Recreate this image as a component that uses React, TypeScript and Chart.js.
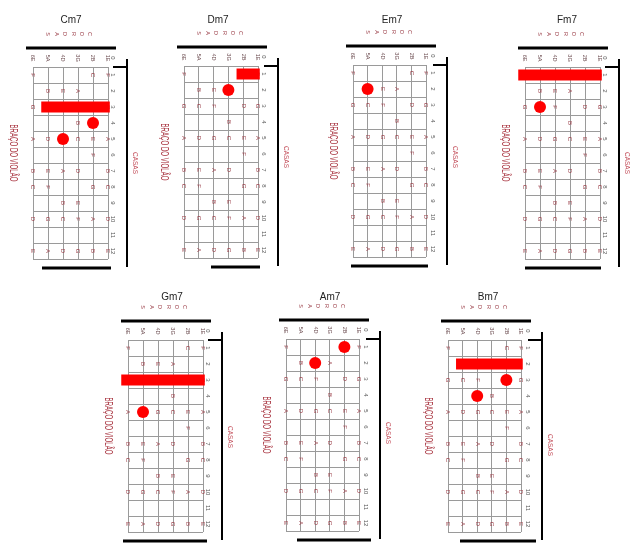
import React, { useEffect, useRef } from 'react';
import { Chart, registerables } from 'chart.js';

Chart.register(...registerables);

// ---------- data ----------
const chordNames = ['Cm7', 'Dm7', 'Em7', 'Fm7', 'Gm7', 'Am7', 'Bm7'];
const stringLabels = ['6E', '5A', '4D', '3G', '2B', '1E'];
const openLabel = '0';
const fretLabels = ['1', '2', '3', '4', '5', '6', '7', '8', '9', '10', '11', '12'];
const cordasLetters = ['C', 'O', 'R', 'D', 'A', 'S'];
const sideTitle = 'CASAS';
const neckTitle = 'BRAÇO DO VIOLÃO';

// natural notes on each string, frets 1..12
const notes6E = ['F', '', 'G', '', 'A', '', 'B', 'C', '', 'D', '', 'E'];
const notes5A = ['', 'B', 'C', '', 'D', '', 'E', 'F', '', 'G', '', 'A'];
const notes4D = ['', 'E', 'F', '', 'G', '', 'A', '', 'B', 'C', '', 'D'];
const notes3G = ['', 'A', '', 'B', 'C', '', 'D', '', 'E', 'F', '', 'G'];
const notes2B = ['C', '', 'D', '', 'E', 'F', '', 'G', '', 'A', '', 'B'];
const notes1E = ['F', '', 'G', '', 'A', '', 'B', 'C', '', 'D', '', 'E'];
const noteColumns = [notes6E, notes5A, notes4D, notes3G, notes2B, notes1E];

// finger dots: string index (0 = 6E ... 5 = 1E) and fret
const dotStrings = [[4, 2], [3], [1], [1], [1], [4, 2], [4, 2]];
const dotFrets = [[4, 5], [2], [2], [3], [5], [1, 2], [3, 4]];
// barre: fret, first string, last string
const barreFret = [3, 1, null, 1, 3, null, 2];
const barreFrom = [1, 4, null, 0, 0, null, 1];
const barreTo = [5, 5, null, 5, 5, null, 5];

// ---------- layout (page positions) ----------
const layouts = [
  { gx: 33, gy: 67, w: 75, titleX: 71, titleY: 20, botFrom: 9, botTo: 78, casasY: 96 },
  { gx: 184, gy: 66, w: 74, titleX: 218, titleY: 20, botFrom: 27, botTo: 76, casasY: 91 },
  { gx: 353, gy: 65, w: 73, titleX: 392, titleY: 20, botFrom: -2, botTo: 75, casasY: 92 },
  { gx: 525, gy: 67, w: 75, titleX: 567, titleY: 20, botFrom: 0, botTo: 76, casasY: 96 },
  { gx: 128, gy: 340, w: 75, titleX: 172, titleY: 297, botFrom: -5, botTo: 79, casasY: 97 },
  { gx: 286, gy: 339, w: 73, titleX: 330, titleY: 297, botFrom: 11, botTo: 85, casasY: 94 },
  { gx: 448, gy: 340, w: 73, titleX: 488, titleY: 297, botFrom: 12, botTo: 88, casasY: 105 },
];
const GRID_H = 192;
const PAD = { left: 30, top: 56, right: 36, bottom: 14 };

const FONT = '"Liberation Sans", Arial, sans-serif';
const NOTE_COLOR = '#9a3c46';
const LABEL_COLOR = '#6a4a4e';
const FRET_COLOR = '#555555';
const CASAS_COLOR = '#c4505c';
const NECK_COLOR = '#a8323e';
const RED = '#ff0000';

function rotText(
  ctx: CanvasRenderingContext2D,
  text: string,
  x: number,
  y: number,
  font: string,
  color: string,
  targetLen?: number
) {
  ctx.save();
  ctx.translate(x, y);
  ctx.rotate(Math.PI / 2);
  ctx.font = font;
  if (targetLen) {
    const m = ctx.measureText(text).width;
    ctx.scale(targetLen / m, 1);
  }
  ctx.fillStyle = color;
  ctx.textAlign = 'center';
  ctx.textBaseline = 'middle';
  ctx.fillText(text, 0, 0);
  ctx.restore();
}

function line(ctx: CanvasRenderingContext2D, x1: number, y1: number, x2: number, y2: number, w: number) {
  ctx.save();
  ctx.strokeStyle = '#000';
  ctx.lineWidth = w;
  ctx.beginPath();
  ctx.moveTo(x1, y1);
  ctx.lineTo(x2, y2);
  ctx.stroke();
  ctx.restore();
}

function makeConfig(i: number): any {
  const L = layouts[i];
  const canvasLeft = L.gx - PAD.left;
  const canvasTop = L.gy - PAD.top;

  const dots = dotStrings[i].map((s, k) => ({ x: s, y: dotFrets[i][k] - 0.5 }));
  const bf = barreFret[i];
  const barre =
    bf == null
      ? []
      : [
          { x: (barreFrom[i] as number) - 0.45, y: bf - 0.5 },
          { x: (barreTo[i] as number) + 0.12, y: bf - 0.5 },
        ];

  const plugin = {
    id: 'diagram' + i,
    beforeDatasetsDraw(chart: any) {
      const { ctx } = chart;
      const xs = chart.scales.x;
      const ys = chart.scales.y;
      noteColumns.forEach((col, s) => {
        col.forEach((n, f) => {
          if (n) rotText(ctx, n, xs.getPixelForValue(s), ys.getPixelForValue(f + 0.5), '6px ' + FONT, NOTE_COLOR);
        });
      });
    },
    afterDraw(chart: any) {
      const { ctx } = chart;
      const xs = chart.scales.x;
      const ys = chart.scales.y;
      const ox = xs.getPixelForValue(0);
      const oy = ys.getPixelForValue(0);

      // title
      ctx.save();
      ctx.font = '10px ' + FONT;
      ctx.fillStyle = '#222';
      ctx.textAlign = 'center';
      ctx.textBaseline = 'middle';
      ctx.fillText(chordNames[i], L.titleX - canvasLeft, L.titleY - canvasTop);
      ctx.restore();

      // CORDAS
      cordasLetters.forEach((c, k) => rotText(ctx, c, ox + 57 - k * 8.4, oy - 33, '5.5px ' + FONT, NOTE_COLOR));

      // string labels
      stringLabels.forEach((s, k) => rotText(ctx, s, xs.getPixelForValue(k), oy - 9, '5.5px ' + FONT, LABEL_COLOR));
      rotText(ctx, openLabel, ox + 80, oy - 9, '6px ' + FONT, FRET_COLOR);

      // fret numbers
      fretLabels.forEach((f, k) => rotText(ctx, f, ox + 80, ys.getPixelForValue(k + 0.5), '6px ' + FONT, FRET_COLOR));

      // black frame lines
      line(ctx, ox - 7, oy - 19, ox + 83, oy - 19, 3);
      line(ctx, ox + 94, oy - 8, ox + 94, oy + 200, 2);
      line(ctx, ox + 80, oy, ox + 94, oy, 2);
      line(ctx, ox + L.botFrom, oy + 201, ox + L.botTo, oy + 201, 3);

      // side texts
      rotText(ctx, sideTitle, ox + 102, oy + L.casasY, '6.5px ' + FONT, CASAS_COLOR);
      rotText(ctx, neckTitle, ox - 20, oy + 86, '11px ' + FONT, NECK_COLOR, 57);
    },
  };

  return {
    type: 'scatter',
    data: {
      datasets: [
        {
          type: 'line',
          data: barre,
          borderColor: RED,
          backgroundColor: RED,
          borderWidth: 11,
          borderCapStyle: 'butt',
          pointRadius: 0,
          clip: false,
          order: 2,
        },
        {
          type: 'scatter',
          data: dots,
          pointRadius: 6,
          backgroundColor: RED,
          borderWidth: 0,
          clip: false,
          order: 1,
        },
      ],
    },
    options: {
      animation: false,
      responsive: false,
      events: [],
      layout: { padding: PAD },
      plugins: { legend: { display: false }, tooltip: { enabled: false } },
      scales: {
        x: {
          type: 'linear',
          min: 0,
          max: 5,
          ticks: { display: false, stepSize: 1 },
          grid: { color: '#9a9a9a', lineWidth: 1, drawTicks: false },
          border: { display: false },
        },
        y: {
          type: 'linear',
          min: 0,
          max: 12,
          reverse: true,
          ticks: { display: false, stepSize: 1 },
          grid: { color: '#9a9a9a', lineWidth: 1, drawTicks: false },
          border: { display: false },
        },
      },
    },
    plugins: [plugin],
  };
}

function Diagram({ i }: { i: number }) {
  const ref = useRef<HTMLCanvasElement>(null);
  const L = layouts[i];
  const left = L.gx - PAD.left;
  const top = L.gy - PAD.top;
  const width = PAD.left + L.w + PAD.right;
  const height = PAD.top + GRID_H + PAD.bottom;
  useEffect(() => {
    const chart = new Chart(ref.current as HTMLCanvasElement, makeConfig(i));
    return () => chart.destroy();
  }, [i]);
  return (
    <canvas
      ref={ref}
      width={width}
      height={height}
      style={{ position: 'absolute', left, top, width, height }}
    />
  );
}

export default function App() {
  return (
    <div
      style={{
        position: 'fixed',
        left: 0,
        top: 0,
        width: 638,
        height: 552,
        background: '#fff',
        overflow: 'hidden',
      }}
    >
      {chordNames.map((_, i) => (
        <Diagram key={i} i={i} />
      ))}
    </div>
  );
}
